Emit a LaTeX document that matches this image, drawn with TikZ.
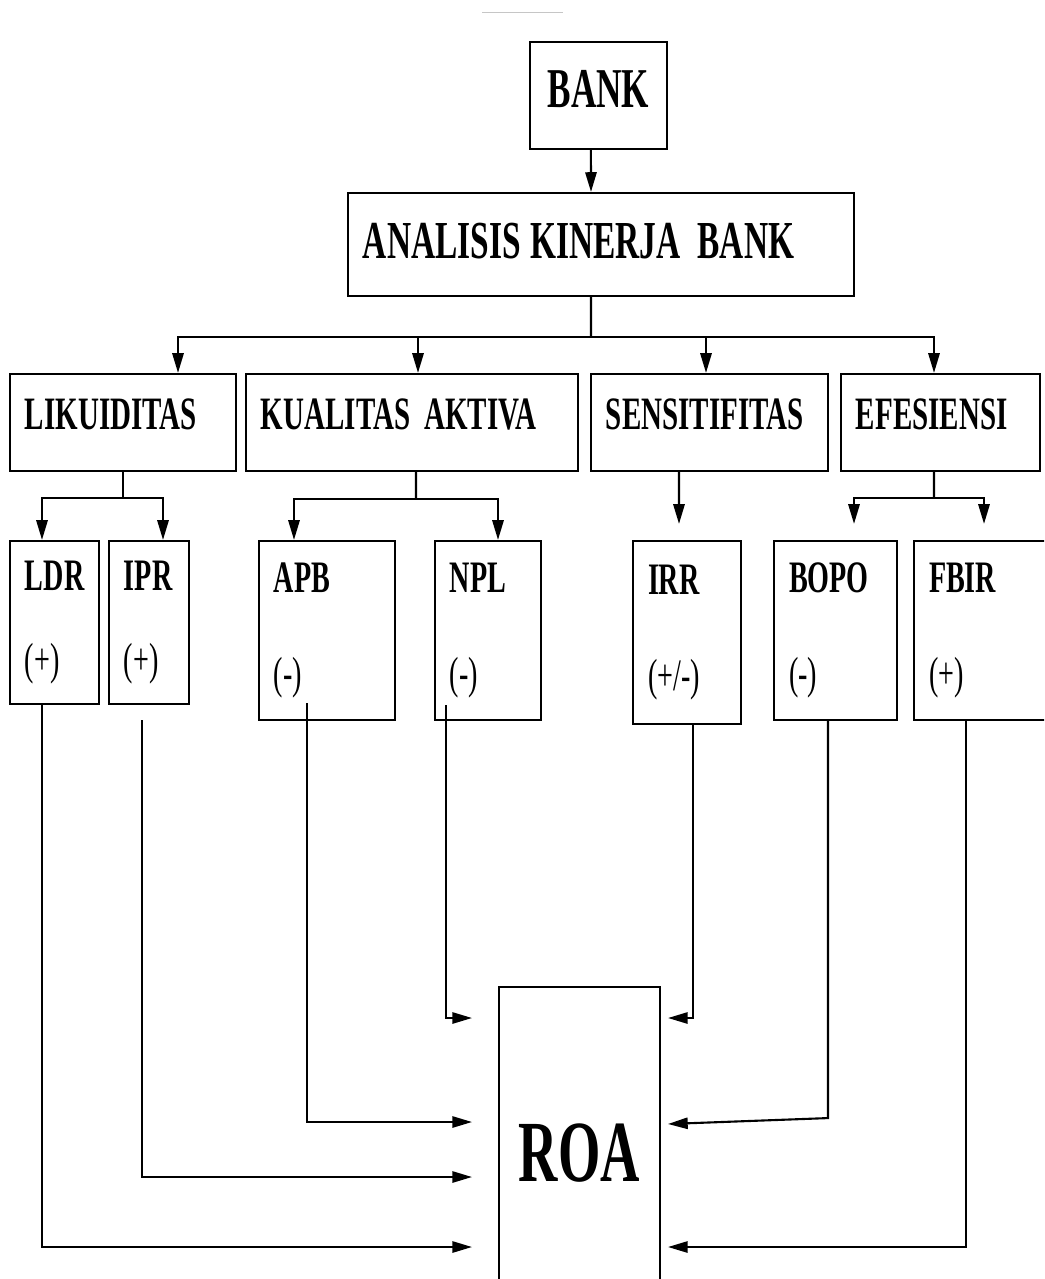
\documentclass[tikz,border=0pt]{standalone}
\usepackage{fontspec}
\setmainfont{Liberation Serif}[FakeStretch=0.625]
\usetikzlibrary{arrows.meta}

\tikzset{
  ln/.style={line width=1.5pt},
  arr/.style={line width=1.5pt, -{Triangle[length=14pt,width=8pt]}},
  box/.style={draw, line width=1.5pt, align=left, inner xsep=0.375cm, inner ysep=0pt},
  head/.style={box, minimum height=2.425cm, text depth=0.4cm, font=\bfseries\fontsize{33}{36}\selectfont},
  leaf/.style={box, font=\fontsize{32}{60}\selectfont},
}

\begin{document}
\begin{tikzpicture}[x=0.025cm, y=-0.025cm]
    \useasboundingbox (0,0) rectangle (1044,1279);
    \clip (0,0) rectangle (1044,1279);
    \draw[gray!45, line width=1.2pt] (482,12.5) -- (563,12.5);

    % top
    \node[box, align=center, minimum width=3.425cm, minimum height=2.675cm, text depth=0.35cm,
          font=\bfseries\fontsize{40}{44}\selectfont] (bank) at (598.5,95.5) {BANK};
    \node[box, text width=11.9cm, minimum height=2.575cm, text depth=0.2cm,
          font=\bfseries\fontsize{38}{42}\selectfont] (akb) at (601,244.5)
          {ANALISIS\hspace{7pt}KINERJA\hspace{12pt}BANK};

    % aspek
    \node[head, text width=4.9cm] (lik) at (123,422.5) {LIKUIDITAS};
    \node[head, text width=7.55cm] (ka) at (412,422.5) {KUALITAS\hspace{10pt}AKTIVA};
    \node[head, text width=5.175cm] (sens) at (709.5,422.5) {SENSITIFITAS};
    \node[head, text width=4.225cm] (efs) at (940.5,422.5) {EFESIENSI};

    % rasio
    \node[leaf, text width=1.475cm, minimum height=4.075cm] (ldr) at (54.5,622.5) {\textbf{LDR}\\(+)};
    \node[leaf, text width=1.25cm, minimum height=4.075cm] (ipr) at (149,622.5) {\textbf{IPR}\\(+)};
    \node[leaf, text width=2.65cm, minimum height=4.475cm] (apb) at (327,630.5) {\textbf{APB}\\[8pt](-)};
    \node[leaf, text width=1.9cm, minimum height=4.475cm] (npl) at (488,630.5) {\textbf{NPL}\\[8pt](-)};
    \node[leaf, text width=1.95cm, minimum height=4.575cm] (irr) at (687,632.5) {\textbf{IRR}\\[8pt](+/-)};
    \node[leaf, text width=2.325cm, minimum height=4.475cm] (bopo) at (835.5,630.5) {\textbf{BOPO}\\[8pt](-)};
    \node[leaf, text width=2.6cm, minimum height=4.475cm] (fbir) at (981,630.5) {\textbf{FBIR}\\[8pt](+)};

    \node[box, align=center, line width=1.2pt, minimum width=4.025cm, minimum height=8.3cm,
          font=\bfseries\fontsize{62}{66}\selectfont] (roa) at (579.5,1153) {ROA};

    \coordinate (split1) at (591,337);
    \coordinate (split2) at (123,498);
    \coordinate (split3) at (416,499);
    \coordinate (split4) at (934,498);

    \coordinate (apbout) at (307,703);
    \coordinate (nplout) at (446,705);
    \coordinate (iprout) at (142,720);
    \coordinate (inldr) at (472,1247);
    \coordinate (inipr) at (472,1177);
    \coordinate (inapb) at (472,1122);
    \coordinate (innpl) at (472,1018);
    \coordinate (inirr) at (668,1018);
    \coordinate (inbopo) at (668,1124);
    \coordinate (infbir) at (668,1247);

    % tree
    \draw[arr] ([xshift=-0.19cm]bank.south) -- ([xshift=-0.25cm]akb.north);
    \draw[ln] ([xshift=-0.25cm]akb.south) -- (split1);
    \foreach \n/\dx in {lik/1.375, ka/0.15, sens/-0.0875, efs/-0.1625}
        \draw[arr] (split1) -| ([xshift=\dx cm]\n.north);

    \draw[ln] (lik.south) -- (split2);
    \draw[arr] (split2) -| ([xshift=-0.3125cm]ldr.north);
    \draw[arr] (split2) -| ([xshift=0.35cm]ipr.north);

    \draw[ln] ([xshift=0.1cm]ka.south) -- (split3);
    \draw[arr] (split3) -| ([xshift=-0.825cm]apb.north);
    \draw[arr] (split3) -| ([xshift=0.25cm]npl.north);

    \draw[arr, shorten >=0.4cm] ([xshift=-0.7625cm]sens.south) -- ([xshift=-0.2cm]irr.north);

    \draw[ln] ([xshift=-0.1625cm]efs.south) -- (split4);
    \draw[arr, shorten >=0.4cm] (split4) -| ([xshift=0.4625cm]bopo.north);
    \draw[arr, shorten >=0.4cm] (split4) -| ([xshift=0.075cm]fbir.north);

    % ke ROA
    \draw[arr] ([xshift=-0.3125cm]ldr.south) |- (inldr);
    \draw[arr] (iprout) |- (inipr);
    \draw[arr] (apbout) |- (inapb);
    \draw[arr] (nplout) |- (innpl);
    \draw[arr] ([xshift=0.15cm]irr.south) |- (inirr);
    \draw[arr] ([xshift=-0.1875cm]bopo.south) -- ++(0,397) -- (inbopo);
    \draw[arr] ([xshift=-0.375cm]fbir.south) |- (infbir);
\end{tikzpicture}
\end{document}
